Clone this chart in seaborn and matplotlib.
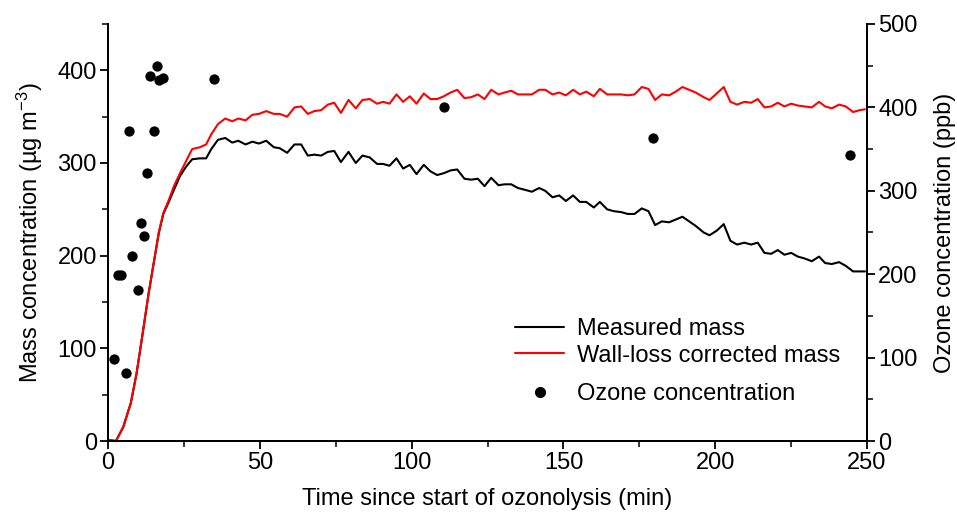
import numpy as np
import pandas as pd
import seaborn as sns
import matplotlib
matplotlib.use("Agg")
import matplotlib.pyplot as plt
from matplotlib.ticker import MultipleLocator
from matplotlib.lines import Line2D

# datos
tiempo = [0.4, 2.6, 5.0, 7.5, 9.4, 11.4, 13.4, 15.4, 16.7, 18.2, 20.0, 21.7, 23.7,
          25.7, 27.7, 30.2, 32.3, 34.0, 36.2, 38.6, 40.9, 42.9, 45.3, 47.5, 49.7,
          52.1, 54.6, 56.5, 59.0, 61.4, 63.6, 65.8, 67.9, 70.2, 72.4, 74.5, 76.7,
          79.2, 81.6, 83.8, 86.2, 88.6, 90.6, 92.7, 95.0, 97.2, 99.4, 101.6, 104.0,
          106.2, 108.4, 110.6, 112.8, 115.0, 117.4, 119.6, 121.8, 124.0, 126.2,
          128.6, 130.6, 132.8, 135.0, 137.4, 139.6, 142.0, 144.0, 146.4, 148.6,
          150.8, 153.2, 155.4, 157.5, 160.0, 162.0, 164.4, 166.6, 169.0, 171.2,
          173.4, 175.8, 178.0, 180.2, 182.4, 184.8, 187.0, 189.2, 191.4, 193.6,
          196.2, 198.1, 200.5, 202.8, 205.0, 207.2, 209.6, 211.8, 214.0, 216.2,
          218.4, 220.6, 222.8, 225.0, 227.2, 229.4, 231.8, 234.2, 236.2, 238.4,
          240.8, 243.0, 245.4, 247.6, 249.3]

masa_medida = [1, 0, 15, 41, 73, 116, 160, 199, 224, 245, 258, 271, 286,
               296, 304, 305, 305, 315, 325, 327, 322, 324, 320, 323, 321,
               324, 317, 316, 311, 320, 320, 308, 309, 308, 312, 313, 301,
               312, 300, 308, 306, 299, 299, 297, 305, 294, 298, 288, 298,
               291, 287, 289, 292, 293, 283, 282, 283, 275, 284,
               276, 277, 277, 273, 271, 269, 273, 270, 263, 265,
               259, 265, 258, 258, 252, 258, 250, 248, 247, 245,
               245, 251, 248, 233, 237, 236, 239, 242, 237, 232,
               225, 222, 227, 234, 216, 212, 214, 212, 214, 203,
               202, 206, 201, 203, 199, 197, 194, 199, 192, 191,
               193, 189, 183, 183, 183]

masa_corregida = [1, 0, 15, 41, 73, 116, 160, 199, 225, 246, 260, 275, 289,
                  302, 315, 317, 320, 331, 342, 348, 345, 348, 346, 352, 353,
                  356, 353, 353, 350, 360, 361, 353, 356, 357, 363, 365, 354,
                  368, 359, 368, 369, 364, 366, 364, 374, 366, 372, 364, 375,
                  369, 369, 372, 376, 379, 370, 371, 374, 369, 379,
                  374, 376, 378, 374, 374, 374, 379, 379, 374, 376,
                  373, 379, 374, 377, 372, 380, 374, 374, 374, 373,
                  374, 382, 380, 368, 374, 373, 377, 382, 379, 376,
                  371, 368, 375, 382, 366, 363, 366, 365, 369, 360,
                  361, 365, 361, 364, 362, 361, 360, 366, 361, 359,
                  363, 361, 355, 357, 358]

tiempo_ozono = [2.0, 3.4, 4.3, 5.9, 7.0, 8.0, 10.0, 11.0, 11.9, 12.9, 13.9,
                15.0, 16.0, 16.9, 18.0, 34.9, 110.8, 179.5, 244.3]
ozono_ppb = [98, 199, 199, 82, 372, 222, 181, 261, 246, 321, 438,
             372, 450, 433, 435, 434, 401, 363, 343]

df = pd.DataFrame({"tiempo": tiempo, "medida": masa_medida, "corregida": masa_corregida})

sns.set_style("ticks")
plt.rcParams["font.family"] = ["Liberation Sans", "DejaVu Sans"]
plt.rcParams["mathtext.fontset"] = "custom"
plt.rcParams["mathtext.rm"] = "Liberation Sans"
plt.rcParams["mathtext.it"] = "Liberation Sans"
plt.rcParams["text.color"] = "black"
plt.rcParams["axes.labelcolor"] = "black"

fs = 17

fig = plt.figure(figsize=(9.57, 5.17), dpi=100)
ax = fig.add_axes([0.1129, 0.147, 0.7931, 0.8066])
ax2 = ax.twinx()

sns.lineplot(data=df, x="tiempo", y="medida", color="black", lw=1.5,
             estimator=None, ax=ax, legend=False)
sns.lineplot(data=df, x="tiempo", y="corregida", color="#ff0000", lw=1.5,
             estimator=None, ax=ax, legend=False)
sns.scatterplot(x=tiempo_ozono, y=ozono_ppb, color="black", s=55, linewidth=0,
                ax=ax2, legend=False)

ax.set_xlim(0, 250)
ax.set_ylim(0, 450)
ax2.set_ylim(0, 500)

ax.xaxis.set_major_locator(MultipleLocator(50))
ax.xaxis.set_minor_locator(MultipleLocator(25))
ax.yaxis.set_major_locator(MultipleLocator(100))
ax.yaxis.set_minor_locator(MultipleLocator(50))
ax2.yaxis.set_major_locator(MultipleLocator(100))
ax2.yaxis.set_minor_locator(MultipleLocator(50))

for a in (ax, ax2):
    a.tick_params(which="major", direction="out", length=6, width=1.3,
                  labelsize=fs, colors="black", pad=2)
    a.tick_params(which="minor", direction="out", length=4, width=1.3)
    for s in a.spines.values():
        s.set_linewidth(1.4)
        s.set_color("black")
    a.spines["top"].set_visible(False)

ax.set_xlabel("Time since start of ozonolysis (min)", fontsize=fs, labelpad=10)
ax.set_ylabel("Mass concentration (µg m$^{-3}$)", fontsize=fs, labelpad=9)
ax2.set_ylabel("Ozone concentration (ppb)", fontsize=fs, labelpad=12)

# leyenda en dos partes para imitar el espaciado del original
lineas = [Line2D([], [], color="black", lw=1.5), Line2D([], [], color="#ff0000", lw=1.5)]
leg1 = ax2.legend(lineas, ["Measured mass", "Wall-loss corrected mass"],
                  loc="center left", bbox_to_anchor=(0.536, 0.237),
                  frameon=False, fontsize=fs, handlelength=2.1, handletextpad=0.55,
                  labelspacing=0.2, borderpad=0, borderaxespad=0)
ax2.add_artist(leg1)
punto = [Line2D([], [], color="black", marker="o", ls="none", markersize=7)]
ax2.legend(punto, ["Ozone concentration"], loc="center left",
           bbox_to_anchor=(0.536, 0.113), frameon=False, fontsize=fs,
           handlelength=2.1, handletextpad=0.55, borderpad=0, borderaxespad=0)

fig.savefig("out.png", dpi=100)
